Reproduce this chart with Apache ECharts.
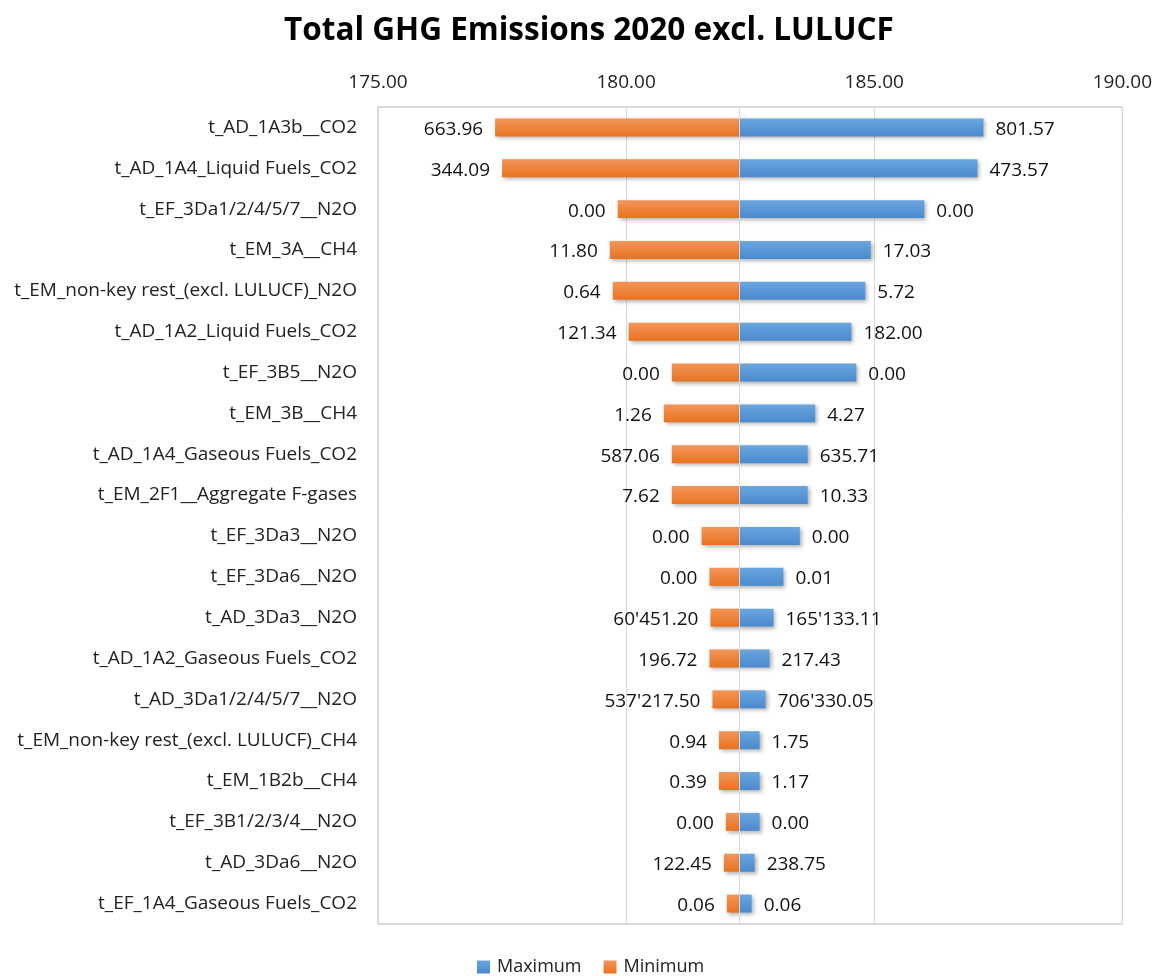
<!DOCTYPE html>
<html>
<head>
<meta charset="utf-8">
<script src="https://cdn.jsdelivr.net/npm/echarts@6/dist/echarts.min.js"></script>
<style>
  html, body { margin: 0; padding: 0; background: #fff; }
  #chart { width: 1155px; height: 976px; }
</style>
</head>
<body>
<div id="chart"></div>
<script>
// tornado: bars run from the base value out to the low / high result
const baseValue = 182.28;

const categories = [
  "t_AD_1A3b__CO2",
  "t_AD_1A4_Liquid Fuels_CO2",
  "t_EF_3Da1/2/4/5/7__N2O",
  "t_EM_3A__CH4",
  "t_EM_non-key rest_(excl. LULUCF)_N2O",
  "t_AD_1A2_Liquid Fuels_CO2",
  "t_EF_3B5__N2O",
  "t_EM_3B__CH4",
  "t_AD_1A4_Gaseous Fuels_CO2",
  "t_EM_2F1__Aggregate F-gases",
  "t_EF_3Da3__N2O",
  "t_EF_3Da6__N2O",
  "t_AD_3Da3__N2O",
  "t_AD_1A2_Gaseous Fuels_CO2",
  "t_AD_3Da1/2/4/5/7__N2O",
  "t_EM_non-key rest_(excl. LULUCF)_CH4",
  "t_EM_1B2b__CH4",
  "t_EF_3B1/2/3/4__N2O",
  "t_AD_3Da6__N2O",
  "t_EF_1A4_Gaseous Fuels_CO2"
];

// result when the input is at its minimum / maximum
const minResult = [177.36, 177.50, 179.83, 179.67, 179.73, 180.05, 180.92, 180.76, 180.92, 180.92,
                   181.52, 181.68, 181.70, 181.68, 181.74, 181.87, 181.87, 182.01, 181.97, 182.03];
const maxResult = [187.20, 187.08, 186.01, 184.93, 184.82, 184.54, 184.64, 183.81, 183.66, 183.66,
                   183.50, 183.17, 182.97, 182.89, 182.81, 182.69, 182.69, 182.69, 182.59, 182.53];

// input values printed next to the bars
const minInputs = ["663.96", "344.09", "0.00", "11.80", "0.64", "121.34", "0.00", "1.26", "587.06", "7.62",
                   "0.00", "0.00", "60'451.20", "196.72", "537'217.50", "0.94", "0.39", "0.00", "122.45", "0.06"];
const maxInputs = ["801.57", "473.57", "0.00", "17.03", "5.72", "182.00", "0.00", "4.27", "635.71", "10.33",
                   "0.00", "0.01", "165'133.11", "217.43", "706'330.05", "1.75", "1.17", "0.00", "238.75", "0.06"];

const axisTicks = [175, 180, 185, 190];

const FONT = "Open Sans";
const chart = echarts.init(document.getElementById("chart"));

const barShadow = {
  shadowBlur: 4,
  shadowOffsetX: 2,
  shadowOffsetY: 2,
  shadowColor: "rgba(0,0,0,0.3)",
};

chart.setOption({
  animation: false,
  textStyle: { fontFamily: FONT },
  title: {
    text: "Total GHG Emissions 2020 excl. LULUCF",
    left: 279,
    top: 10,
    textStyle: {
      fontFamily: FONT,
      fontWeight: "bold",
      fontSize: 31.5,
      color: "#000",
    },
  },
  legend: {
    data: ["Maximum", "Minimum"],
    bottom: -5,
    left: 472,
    icon: "rect",
    itemWidth: 13,
    itemHeight: 13,
    itemGap: 22,
    textStyle: { fontFamily: FONT, fontSize: 18, color: "#222", padding: [0, 0, 0, 2] },
  },
  grid: {
    left: 378,
    right: 32,
    top: 107,
    bottom: 52,
    show: true,
    borderColor: "#b4b4b4",
    borderWidth: 1,
  },
  xAxis: {
    type: "value",
    position: "top",
    min: axisTicks[0],
    max: axisTicks[axisTicks.length - 1],
    interval: 5,
    axisLine: { show: false },
    axisTick: { show: false },
    axisLabel: {
      margin: 15,
      fontSize: 19,
      color: "#222",
      formatter: (v) => v.toFixed(2),
    },
    splitLine: { lineStyle: { color: "#d9d9d9" } },
  },
  yAxis: {
    type: "category",
    data: categories,
    inverse: true,
    axisLine: { show: false },
    axisTick: { show: false },
    axisLabel: { margin: 21, fontSize: 19, color: "#222" },
  },
  series: [
    {
      name: "spacer",
      type: "bar",
      stack: "tornado",
      silent: true,
      itemStyle: { color: "transparent" },
      data: minResult,
      barCategoryGap: "56%",
    },
    {
      name: "Minimum",
      type: "bar",
      stack: "tornado",
      data: minResult.map((v) => +(baseValue - v).toFixed(4)),
      itemStyle: Object.assign(
        {
          color: new echarts.graphic.LinearGradient(0, 0, 0, 1, [
            { offset: 0, color: "#F3955A" },
            { offset: 1, color: "#E8731F" },
          ]),
        },
        barShadow
      ),
      label: {
        show: true,
        position: "left",
        distance: 12,
        offset: [0, 2],
        fontSize: 19,
        color: "#111",
        formatter: (p) => minInputs[p.dataIndex],
      },
      markLine: {
        silent: true,
        symbol: "none",
        label: { show: false },
        lineStyle: { color: "#d9d9d9", type: "solid", width: 1 },
        data: [{ xAxis: baseValue }],
      },
    },
    {
      name: "Maximum",
      type: "bar",
      stack: "tornado",
      data: maxResult.map((v) => +(v - baseValue).toFixed(4)),
      itemStyle: Object.assign(
        {
          color: new echarts.graphic.LinearGradient(0, 0, 0, 1, [
            { offset: 0, color: "#6AA6DE" },
            { offset: 1, color: "#4A89CE" },
          ]),
        },
        barShadow
      ),
      label: {
        show: true,
        position: "right",
        distance: 12,
        offset: [0, 2],
        fontSize: 19,
        color: "#111",
        formatter: (p) => maxInputs[p.dataIndex],
      },
    },
  ],
  color: ["transparent", "#ED7D31", "#5B9BD5"],
});
</script>
</body>
</html>
